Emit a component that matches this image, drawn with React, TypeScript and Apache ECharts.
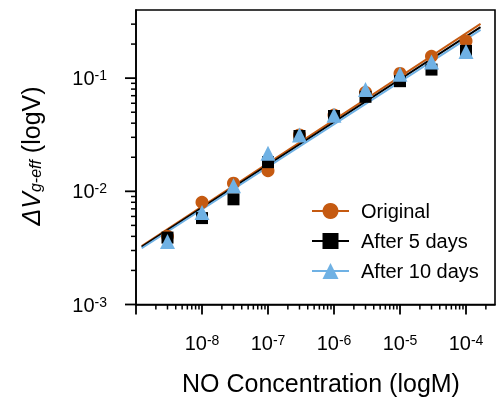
import React, { useEffect, useRef } from 'react';
import * as echarts from 'echarts';

// NO concentration (M)
const concentrations = [3e-9, 1e-8, 3e-8, 1e-7, 3e-7, 1e-6, 3e-6, 1e-5, 3e-5, 1e-4];
// ΔV g-eff (V)
const original = [0.004, 0.008, 0.0118, 0.0152, 0.0315, 0.0472, 0.075, 0.11, 0.156, 0.213];
const after5 = [0.0039, 0.0058, 0.0085, 0.0181, 0.0308, 0.0463, 0.0684, 0.094, 0.119, 0.174];
const after10 = [0.0036, 0.0065, 0.0112, 0.0217, 0.0315, 0.047, 0.0794, 0.108, 0.139, 0.172];

// fitted lines (end points)
const fitX = [1.22e-9, 1.66e-4];
const fitOriginal = [3.29e-3, 0.302];
const fitAfter5 = [3.24e-3, 0.282];
const fitAfter10 = [3.14e-3, 0.267];

const seriesNames = ['Original', 'After 5 days', 'After 10 days'];

// axis ticks / labels
const xMajorTicks = [1e-9, 1e-8, 1e-7, 1e-6, 1e-5, 1e-4];
const yMajorTicks = [1e-3, 1e-2, 1e-1];
const xLabelExponents = [-8, -7, -6, -5, -4];
const yLabelExponents = [-3, -2, -1];
const minorMultipliers = [2, 3, 4, 5, 6, 7, 8, 9];

const X_MIN = 1e-9;
const X_MAX = 2.75e-4;
const Y_MIN = 1e-3;
const Y_MAX = 0.4;

const FONT = '"Liberation Sans", Arial, sans-serif';
const ORANGE = '#c55a11';
const BLACK = '#000000';
const BLUE = '#6fb1e4';

const zip = (xs: number[], ys: number[]) => xs.map((x, i) => [x, ys[i]]);

function expLabel(allowed: number[]) {
  return (v: number) => {
    const l = Math.log10(v);
    const e = Math.round(l);
    if (Math.abs(l - e) > 1e-6 || allowed.indexOf(e) < 0) return '';
    return `{b|10}{s|${e}}`;
  };
}

const labelRich = {
  b: { fontSize: 20, lineHeight: 20, fontFamily: FONT, color: '#000', verticalAlign: 'bottom' },
  s: { fontSize: 14, lineHeight: 14, fontFamily: FONT, color: '#000', verticalAlign: 'top', padding: [0, 0, 7, 0] },
};

export default function App() {
  const ref = useRef<HTMLDivElement>(null);
  useEffect(() => {
    if (!ref.current) return;
    const chart = echarts.init(ref.current, null, { renderer: 'svg' });

    const tickData: number[][] = [];
    xMajorTicks.forEach((t) => {
      tickData.push([t, Y_MIN, 0, 10, 1.8]);
      minorMultipliers.forEach((m) => {
        const v = t * m;
        if (v < X_MAX) tickData.push([v, Y_MIN, 0, 5, 1.5]);
      });
    });
    yMajorTicks.forEach((t) => {
      tickData.push([X_MIN, t, 1, 11, 1.8]);
      minorMultipliers.forEach((m) => {
        const v = t * m;
        if (v < Y_MAX * 0.999) tickData.push([X_MIN, v, 1, 5, 1.5]);
      });
    });

    const colors = [ORANGE, BLACK, BLUE];
    const symbols = ['circle', 'rect', 'triangle'];
    const symSizes = [13, 12, 15];
    const pts = [original, after5, after10];
    const fits = [fitOriginal, fitAfter5, fitAfter10];

    const series: any[] = [];
    seriesNames.forEach((name, i) => {
      series.push({
        name,
        type: 'line',
        data: zip(fitX, fits[i]),
        showSymbol: false,
        symbol: symbols[i],
        symbolSize: symSizes[i],
        lineStyle: { color: colors[i], width: 2 },
        itemStyle: { color: colors[i] },
        z: 2,
        silent: true,
      });
    });
    seriesNames.forEach((name, i) => {
      series.push({
        name: name + ' data',
        type: 'scatter',
        data: zip(concentrations, pts[i]),
        symbol: symbols[i],
        symbolSize: symSizes[i],
        itemStyle: { color: colors[i], opacity: 1 },
        z: 3 + i,
        silent: true,
      });
    });
    series.push({
      type: 'custom',
      coordinateSystem: 'cartesian2d',
      silent: true,
      clip: false,
      z: 10,
      data: tickData,
      encode: { x: 0, y: 1 },
      renderItem: (params: any, api: any) => {
        const p = api.coord([api.value(0), api.value(1)]);
        const dir = api.value(2);
        const len = api.value(3);
        const w = api.value(4);
        const shape =
          dir === 0
            ? { x1: p[0], y1: p[1], x2: p[0], y2: p[1] + len }
            : { x1: p[0], y1: p[1], x2: p[0] - len, y2: p[1] };
        return { type: 'line', shape, style: { stroke: '#000', lineWidth: w } };
      },
    });

    chart.setOption({
      animation: false,
      grid: {
        left: 136,
        right: 2,
        top: 10,
        bottom: 102.5,
        show: true,
        borderColor: '#000',
        borderWidth: 1.6,
        outerBoundsMode: 'none',
      },
      xAxis: {
        type: 'log',
        min: X_MIN,
        max: X_MAX,
        logBase: 10,
        axisLine: { show: true, lineStyle: { color: '#000', width: 1.6 } },
        axisTick: { show: false },
        minorTick: { show: false },
        splitLine: { show: false },
        axisLabel: {
          formatter: expLabel(xLabelExponents),
          margin: 28,
          rich: labelRich,
          showMinLabel: true,
          showMaxLabel: true,
        },
      },
      yAxis: {
        type: 'log',
        min: Y_MIN,
        max: Y_MAX,
        logBase: 10,
        axisLine: { show: true, lineStyle: { color: '#000', width: 1.6 } },
        axisTick: { show: false },
        minorTick: { show: false },
        splitLine: { show: false },
        axisLabel: {
          formatter: expLabel(yLabelExponents),
          margin: 29,
          rich: labelRich,
          showMinLabel: true,
          showMaxLabel: true,
        },
      },
      legend: {
        data: seriesNames,
        orient: 'vertical',
        left: 306,
        top: 196,
        itemWidth: 37,
        itemHeight: 20,
        itemGap: 10,
        selectedMode: false,
        textStyle: { fontSize: 20, color: '#000', fontFamily: FONT, padding: [0, 0, 0, 7] },
      },
      graphic: [
        {
          type: 'text',
          x: 321,
          y: 383,
          style: {
            text: 'NO Concentration (logM)',
            fontSize: 25,
            fontFamily: FONT,
            fill: '#000',
            align: 'center',
            verticalAlign: 'middle',
          },
        },
        {
          type: 'text',
          x: 31,
          y: 156,
          rotation: Math.PI / 2,
          style: {
            text: '{i|ΔV}{sub|g-eff}{n| (logV)}',
            align: 'center',
            verticalAlign: 'middle',
            fill: '#000',
            rich: {
              i: { fontSize: 25, fontStyle: 'italic', fontFamily: FONT, lineHeight: 25, verticalAlign: 'top', fill: '#000' },
              sub: { fontSize: 16, fontStyle: 'italic', fontFamily: FONT, lineHeight: 16, verticalAlign: 'bottom', padding: [12, 0, 0, 0], fill: '#000' },
              n: { fontSize: 25, fontFamily: FONT, lineHeight: 25, verticalAlign: 'top', fill: '#000' },
            },
          },
        },
      ],
      series,
    });
    return () => chart.dispose();
  }, []);
  return <div ref={ref} style={{ position: 'fixed', left: 0, top: 0, width: 497, height: 407 }} />;
}
